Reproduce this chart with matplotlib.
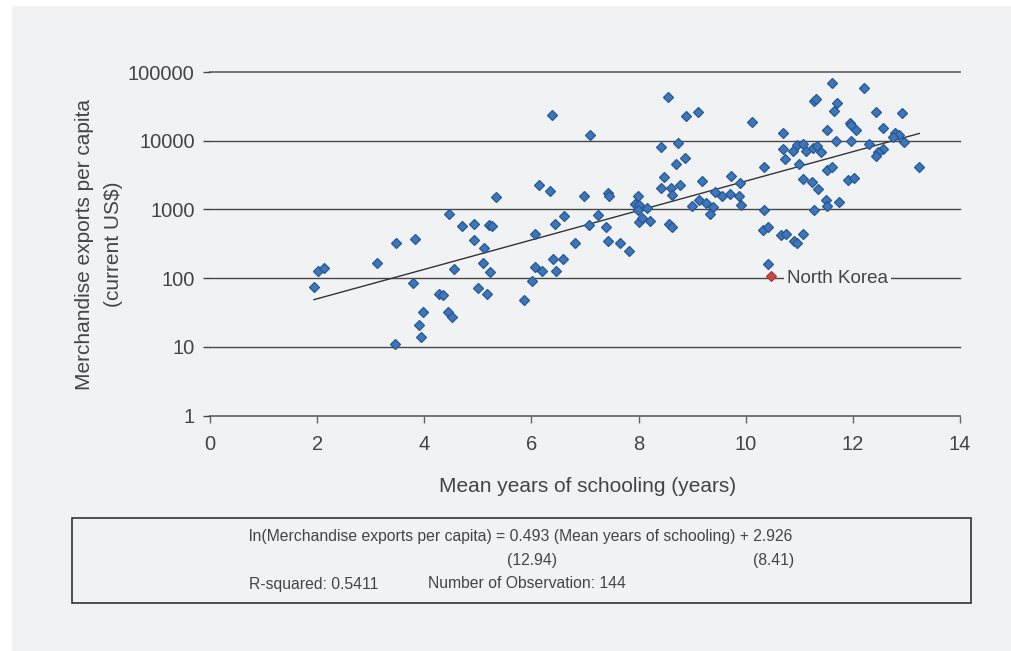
import numpy as np
import matplotlib.pyplot as plt
from matplotlib.patches import Rectangle

plt.rcParams['font.family'] = ['Liberation Sans', 'DejaVu Sans']

# Mean years of schooling and merchandise exports per capita (current US$)
schooling = [
    4.47, 4.70, 3.48, 3.83, 3.11, 2.02, 2.13, 1.94, 4.56, 3.79,
    4.28, 4.35, 3.98, 4.44, 4.52, 3.91, 3.93, 3.45,
    6.38, 7.09, 6.14, 6.35, 5.33, 6.99, 7.42, 7.44, 4.92, 5.20,
    5.27, 4.93, 5.12, 5.10, 5.22, 5.01, 5.17, 5.86, 6.02, 6.07,
    6.20, 6.07, 6.44, 6.60, 6.40, 6.58, 6.46, 6.81, 7.07, 7.24,
    7.39, 7.42, 7.65, 7.83,
    8.55, 8.88, 9.11, 10.12, 8.42, 8.73, 8.87, 8.70, 8.47, 8.42,
    8.60, 8.63, 8.78, 9.18, 7.99, 7.93, 8.01, 7.99, 8.16, 8.01,
    8.07, 8.21, 8.56, 8.63, 8.99, 9.13, 9.26, 9.38, 9.34, 9.43,
    9.56, 9.70, 9.72, 9.89, 9.88, 9.92, 10.34, 10.34, 10.32, 10.42,
    10.42,
    11.62, 12.20, 11.28, 11.32, 11.70, 11.64, 12.43, 12.91, 10.70, 11.51,
    11.94, 11.97, 12.06, 12.57, 12.79, 12.86, 12.74, 12.96, 11.69, 11.97,
    12.30, 10.70, 10.95, 11.06, 10.89, 11.12, 11.25, 11.33, 11.41, 10.74,
    11.00, 12.56, 12.47, 12.43, 11.52, 11.61, 11.06, 11.24, 11.35, 11.90,
    12.03, 13.24, 11.50, 11.52, 11.74, 11.28, 10.65, 10.76, 10.91, 10.95,
    11.06,
]
exports = [
    849, 579, 324, 371, 168, 126, 142, 73, 136, 86,
    59, 56, 32, 32, 27, 21, 13.7, 11,
    23650, 12100, 2290, 1870, 1510, 1550, 1710, 1570, 613, 593,
    568, 362, 277, 168, 124, 71, 59, 47.5, 90, 147,
    127, 439, 613, 810, 190, 190, 127, 321, 593, 838,
    549, 343, 327, 248,
    43700, 22600, 26400, 18500, 8090, 9350, 5600, 4630, 2930, 2050,
    2030, 1620, 2265, 2565, 1585, 1200, 1160, 990, 1040, 662,
    742, 685, 620, 554, 1132, 1385, 1240, 1083, 857, 1790,
    1550, 1693, 3030, 2420, 1585, 1170, 4185, 990, 497, 549,
    159,
    69900, 57900, 37800, 40100, 35000, 27000, 25900, 25300, 13100, 14450,
    17900, 16700, 14300, 15450, 12800, 12100, 11200, 9570, 9900, 9800,
    8860, 7650, 8570, 9040, 7080, 7080, 7830, 8280, 6850, 5470,
    4580, 7650, 6850, 5990, 3710, 4190, 2800, 2480, 1960, 2680,
    2870, 4190, 1385, 1132, 1282, 990, 428, 443, 350, 324,
    443,
]

# Highlighted country
nk_schooling = 10.47
nk_exports = 107
nk_label = 'North Korea'

# Regression: ln(exports) = slope * schooling + intercept
slope = 0.493
intercept = 2.926
t_slope = '(12.94)'
t_intercept = '(8.41)'
r_squared = 0.5411
n_obs = 144

y_ticks = [1, 10, 100, 1000, 10000, 100000]
x_ticks = [0, 2, 4, 6, 8, 10, 12, 14]

W, H = 1012, 651
bg = '#f1f2f4'
text_col = '#444444'
grid_col = '#474747'

fig = plt.figure(figsize=(W / 100, H / 100), dpi=100)
fig.patch.set_facecolor('white')
fig.patches.append(Rectangle((12 / W, 0), 1 - 12 / W, 1 - 6 / H,
                             transform=fig.transFigure, facecolor=bg,
                             edgecolor='none', zorder=-10))

ax = fig.add_axes([210 / W, 1 - 415.5 / H, 750 / W, (415.5 - 72) / H])
ax.set_facecolor('none')
ax.set_yscale('log')
ax.set_xlim(0, 14)
ax.set_ylim(1, 100000)
for s in ax.spines.values():
    s.set_visible(False)

ax.set_yticks(y_ticks, [str(v) for v in y_ticks])
ax.yaxis.set_minor_locator(plt.NullLocator())
ax.set_xticks(x_ticks, [str(v) for v in x_ticks])
ax.tick_params(axis='y', length=5, width=1, color=grid_col, pad=6,
               labelsize=14.5, labelcolor=text_col)
ax.tick_params(axis='x', length=5, width=1, color='#666666', pad=9,
               labelsize=14.5, labelcolor=text_col)
for v in y_ticks:
    edge = v in (y_ticks[0], y_ticks[-1])
    ax.axhline(v, color='#6a6a6a' if edge else grid_col,
               lw=1.3 if edge else 1.0, zorder=1, clip_on=False)

# Fitted line across the observed schooling range
xs = np.array([min(schooling), max(schooling)])
ax.plot(xs, np.exp(slope * xs + intercept), color='#333333', lw=1.0, zorder=2)

ax.plot(schooling, exports, ls='none', marker='D', ms=5.5,
        mfc='#3e76b9', mec='#265793', mew=0.9, zorder=3, clip_on=False)
ax.plot([nk_schooling], [nk_exports], ls='none', marker='D', ms=4.8,
        mfc='#cc4444', mec='#a83232', mew=0.8, zorder=4)
ax.annotate(nk_label, xy=(nk_schooling, 100), xytext=(11.5, 0),
            textcoords='offset points', ha='left', va='center',
            fontsize=13.5, color=text_col, zorder=5,
            bbox=dict(boxstyle='square,pad=0.15', facecolor=bg, edgecolor='none'))

fig.text(588 / W, 1 - 486 / H, 'Mean years of schooling (years)',
         ha='center', va='center', fontsize=15, color=text_col)
fig.text(85 / W, 1 - 244 / H, 'Merchandise exports per capita',
         ha='center', va='center', rotation=90, fontsize=15, color=text_col)
fig.text(114 / W, 1 - 244 / H, '(current US$)',
         ha='center', va='center', rotation=90, fontsize=15, color=text_col)

# Regression summary box
fig.patches.append(Rectangle((72 / W, 1 - 603 / H), (971 - 72) / W, (603 - 518) / H,
                             transform=fig.transFigure, facecolor='none',
                             edgecolor='#333333', lw=1.2, zorder=5))
eq = (f'ln(Merchandise exports per capita) = {slope:.3f} '
      f'(Mean years of schooling) + {intercept:.3f}')
fs_box = 11.3
fig.text(249 / W, 1 - 537 / H, eq, ha='left', va='center',
         fontsize=fs_box, color=text_col)
fig.text(532 / W, 1 - 561 / H, t_slope, ha='center', va='center',
         fontsize=fs_box, color=text_col)
fig.text(794 / W, 1 - 561 / H, t_intercept, ha='right', va='center',
         fontsize=fs_box, color=text_col)
fig.text(249 / W, 1 - 584 / H, f'R-squared: {r_squared}', ha='left', va='center',
         fontsize=fs_box, color=text_col)
fig.text(428 / W, 1 - 584 / H, f'Number of Observation: {n_obs}', ha='left',
         va='center', fontsize=fs_box, color=text_col)

fig.savefig('out.png', dpi=100, facecolor=fig.get_facecolor())
